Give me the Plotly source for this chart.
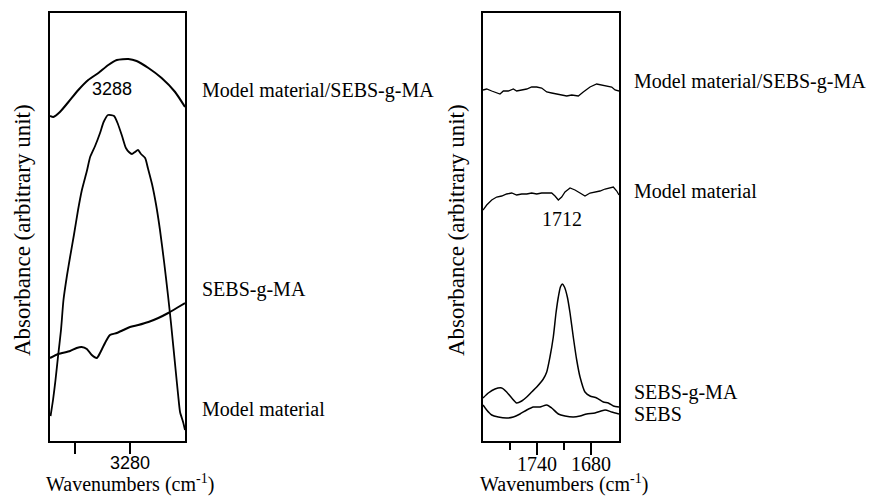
import plotly.graph_objects as go

W, H = 871, 497

# ---- N-H stretching region (3309-3260 cm-1) ----
nh_wn_blend = [3309.1, 3307.9, 3305.5, 3302.4, 3298.8, 3295.2, 3291.5, 3287.9,
               3284.8, 3280.6, 3277.6, 3273.3, 3268.5, 3263.6, 3260.0]
nh_abs_blend = [3.25, 3.24, 3.29, 3.39, 3.51, 3.61, 3.68, 3.76,
                3.81, 3.82, 3.80, 3.73, 3.63, 3.49, 3.34]

nh_wn_model = [3308.9, 3308.0, 3307.1, 3306.2, 3305.1, 3304.2, 3302.9, 3301.8,
               3300.4, 3298.9, 3297.5, 3295.6, 3294.5, 3292.7, 3290.9, 3289.6,
               3288.0, 3285.8, 3284.4, 3282.9, 3281.5, 3280.4, 3279.3, 3278.2,
               3277.1, 3276.0, 3274.5, 3273.5, 3272.0, 3270.5, 3269.1, 3267.6,
               3266.2, 3265.1, 3263.3, 3262.5, 3261.8, 3260.7, 3260.0]
nh_abs_model = [0.25, 0.41, 0.61, 0.84, 1.11, 1.41, 1.66, 1.84,
                2.06, 2.31, 2.51, 2.71, 2.84, 2.95, 3.08, 3.19,
                3.26, 3.25, 3.17, 3.05, 2.93, 2.89, 2.87, 2.89,
                2.91, 2.87, 2.83, 2.73, 2.57, 2.36, 2.11, 1.79,
                1.46, 1.18, 0.68, 0.46, 0.29, 0.19, 0.11]

nh_wn_sebsma = [3309.1, 3306.1, 3301.8, 3299.4, 3297.6, 3295.7, 3293.9, 3292.1,
                3290.9, 3289.1, 3287.3, 3284.8, 3282.4, 3280.0, 3277.0, 3273.3,
                3269.7, 3266.1, 3262.4, 3260.0]
nh_abs_sebsma = [0.83, 0.87, 0.90, 0.93, 0.94, 0.92, 0.86, 0.83,
                 0.88, 0.98, 1.06, 1.08, 1.11, 1.14, 1.16, 1.19,
                 1.23, 1.28, 1.34, 1.38]

# ---- C=O stretching region (1800-1649 cm-1) ----
co_wn_blend = [1800.0, 1795.9, 1790.3, 1784.8, 1781.1, 1777.4, 1771.9, 1766.3,
               1762.6, 1757.0, 1751.4, 1745.9, 1740.3, 1734.8, 1729.2, 1723.7,
               1718.1, 1712.6, 1707.0, 1701.4, 1694.1, 1688.6, 1681.1, 1673.7,
               1668.1, 1662.6, 1657.0, 1653.3, 1648.9]
co_abs_blend = [3.51, 3.52, 3.50, 3.48, 3.47, 3.50, 3.50, 3.52,
                3.50, 3.51, 3.52, 3.54, 3.54, 3.53, 3.49, 3.48,
                3.47, 3.46, 3.45, 3.46, 3.45, 3.49, 3.54, 3.57,
                3.56, 3.55, 3.54, 3.51, 3.50]

co_wn_model = [1800.0, 1795.9, 1790.3, 1784.8, 1779.2, 1773.7, 1768.1, 1762.6,
               1757.0, 1751.4, 1745.9, 1740.3, 1734.8, 1729.2, 1723.7, 1720.0,
               1716.3, 1712.6, 1708.9, 1703.3, 1697.8, 1692.2, 1686.7, 1681.1,
               1675.6, 1670.0, 1664.4, 1658.9, 1655.2, 1651.4, 1648.9]
co_abs_model = [2.31, 2.36, 2.41, 2.44, 2.45, 2.47, 2.48, 2.46,
                2.47, 2.47, 2.48, 2.47, 2.48, 2.48, 2.48, 2.45,
                2.41, 2.44, 2.49, 2.53, 2.51, 2.48, 2.45, 2.48,
                2.49, 2.50, 2.52, 2.53, 2.54, 2.50, 2.46]

co_wn_sebsma = [1800.0, 1794.1, 1786.7, 1779.2, 1773.7, 1768.1, 1762.6, 1757.0,
                1751.4, 1745.9, 1740.3, 1733.0, 1729.2, 1725.6, 1721.9, 1718.9,
                1716.3, 1714.0, 1712.0, 1709.5, 1706.3, 1703.3, 1699.7, 1695.9,
                1692.2, 1686.7, 1681.1, 1673.7, 1666.3, 1660.8, 1655.2, 1648.9]
co_abs_sebsma = [0.43, 0.48, 0.52, 0.53, 0.49, 0.43, 0.38, 0.40,
                 0.44, 0.49, 0.54, 0.62, 0.69, 0.84, 1.04, 1.28,
                 1.44, 1.54, 1.57, 1.54, 1.44, 1.28, 1.04, 0.81,
                 0.64, 0.49, 0.45, 0.43, 0.39, 0.38, 0.35, 0.34]

co_wn_sebs = [1800.0, 1795.9, 1790.3, 1783.0, 1773.7, 1766.3, 1758.9, 1751.4,
              1744.1, 1736.7, 1729.2, 1723.7, 1716.3, 1708.9, 1699.7, 1692.2,
              1684.8, 1675.6, 1664.4, 1657.0, 1648.9]
co_abs_sebs = [0.36, 0.31, 0.26, 0.24, 0.23, 0.24, 0.27, 0.31,
               0.34, 0.34, 0.36, 0.33, 0.27, 0.25, 0.24, 0.25,
               0.27, 0.28, 0.31, 0.29, 0.27]

nh_ticks = [3300, 3280]
nh_ticktext = ["", "3280"]
co_major_ticks = [1740, 1680]
co_minor_ticks = [1770, 1710]

SERIF = "Liberation Serif, Times New Roman, serif"
SANS = "Liberation Sans, Arial, sans-serif"


def pxx(x):
    return x / W


def pxy(y):
    return 1 - y / H


fig = go.Figure()


def add_line(x, y, axes, width, spline):
    line = dict(color="black", width=width)
    if spline:
        line.update(shape="spline", smoothing=0.6)
    fig.add_trace(go.Scatter(x=x, y=y, mode="lines", line=line,
                             xaxis=axes[0], yaxis=axes[1],
                             showlegend=False, hoverinfo="skip"))


add_line(nh_wn_blend, nh_abs_blend, ("x", "y"), 2, True)
add_line(nh_wn_model, nh_abs_model, ("x", "y"), 1.8, True)
add_line(nh_wn_sebsma, nh_abs_sebsma, ("x", "y"), 2, True)

add_line(co_wn_blend, co_abs_blend, ("x2", "y2"), 1.3, False)
add_line(co_wn_model, co_abs_model, ("x2", "y2"), 1.3, False)
add_line(co_wn_sebsma, co_abs_sebsma, ("x2", "y2"), 1.5, True)
add_line(co_wn_sebs, co_abs_sebs, ("x2", "y2"), 1.5, True)

ydom = [pxy(441), pxy(13)]
frame = dict(showline=True, mirror=True, linecolor="black", linewidth=2,
             showgrid=False, zeroline=False)

fig.update_layout(
    width=W, height=H, autosize=False,
    margin=dict(l=0, r=0, t=0, b=0),
    paper_bgcolor="white", plot_bgcolor="white",
    xaxis=dict(domain=[pxx(50), pxx(185)], range=[3309.1, 3260], anchor="y",
               tickmode="array", tickvals=nh_ticks, ticktext=nh_ticktext,
               ticks="outside", ticklen=11, tickwidth=1.5, tickcolor="black",
               ticklabelstandoff=-7,
               tickfont=dict(family=SANS, size=18, color="black"), **frame),
    yaxis=dict(domain=ydom, range=[0, 4.28], anchor="x",
               showticklabels=False, ticks="", **frame),
    xaxis2=dict(domain=[pxx(483), pxx(619)], range=[1800, 1648.9], anchor="y2",
                tickmode="array", tickvals=co_major_ticks,
                ticks="outside", ticklen=12, tickwidth=1.5, tickcolor="black",
                ticklabelstandoff=-8,
                minor=dict(tickmode="array", tickvals=co_minor_ticks,
                           ticks="outside", ticklen=7, tickwidth=1.5,
                           tickcolor="black"),
                tickfont=dict(family=SERIF, size=20, color="black"), **frame),
    yaxis2=dict(domain=ydom, range=[0, 4.28], anchor="x2",
                showticklabels=False, ticks="", **frame),
)

annotations = []


def label(text, x, y, size=20, family=SERIF, xanchor="left",
          yanchor="middle", angle=0):
    annotations.append(dict(text=text, x=pxx(x), y=pxy(y), xref="paper",
                            yref="paper", xanchor=xanchor, yanchor=yanchor,
                            showarrow=False, textangle=angle,
                            font=dict(family=family, size=size, color="black")))


# curve names beside each panel
label("Model material/SEBS-g-MA", 200, 91)
label("SEBS-g-MA", 200, 289)
label("Model material", 200, 409)
label("Model material/SEBS-g-MA", 632, 82)
label("Model material", 632, 191)
label("SEBS-g-MA", 632, 392)
label("SEBS", 632, 414)

# axis titles
label("Wavenumbers (cm<sup>-1</sup>)", 130, 498, size=20, xanchor="center",
      yanchor="bottom")
label("Wavenumbers (cm<sup>-1</sup>)", 564, 498, size=20, xanchor="center",
      yanchor="bottom")
label("Absorbance (arbitrary unit)", 23, 230, size=23, xanchor="center", angle=-90)
label("Absorbance (arbitrary unit)", 457, 230, size=23, xanchor="center", angle=-90)

# peak positions
annotations.append(dict(text="3288", x=3286.5, y=3.52, xref="x", yref="y",
                        showarrow=False, xanchor="center", yanchor="middle",
                        font=dict(family=SANS, size=18, color="black")))
annotations.append(dict(text="1712", x=1712, y=2.22, xref="x2", yref="y2",
                        showarrow=False, xanchor="center", yanchor="middle",
                        font=dict(family=SERIF, size=20, color="black")))

fig.update_layout(annotations=annotations)

fig.write_html("out.html")
